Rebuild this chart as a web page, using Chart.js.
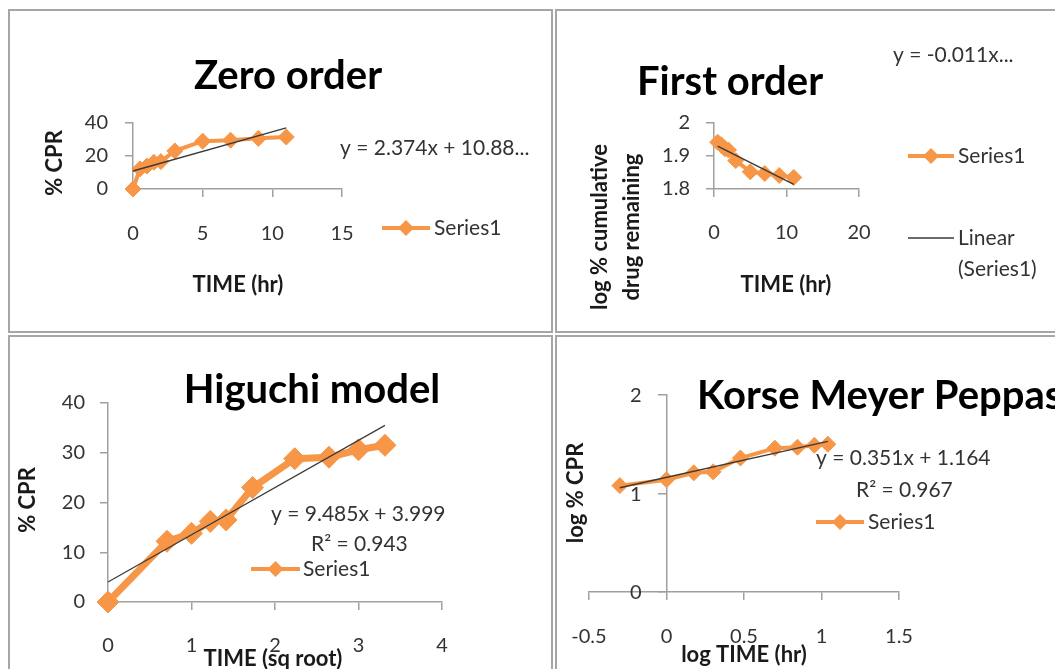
<!DOCTYPE html>
<html>
<head>
<meta charset="utf-8">
<script src="https://cdn.jsdelivr.net/npm/chart.js@4.4.1/dist/chart.umd.min.js"></script>
<style>
  html, body { margin: 0; padding: 0; background: #ffffff; }
  body { width: 1055px; height: 669px; overflow: hidden; position: relative; font-family: Lato, sans-serif; }
  .frame { position: absolute; border: 2px solid #a6a6a6; box-sizing: border-box; }
  canvas { position: absolute; left: 0; top: 0; }
</style>
</head>
<body>
<div class="frame" style="left:8px;top:9px;width:545px;height:324px"></div>
<div class="frame" style="left:555px;top:9px;width:520px;height:324px"></div>
<div class="frame" style="left:8px;top:335px;width:545px;height:400px"></div>
<div class="frame" style="left:555px;top:335px;width:520px;height:400px"></div>
<canvas id="zero" width="1055" height="669" style="width:1055px;height:669px"></canvas>
<canvas id="first" width="1055" height="669" style="width:1055px;height:669px"></canvas>
<canvas id="higuchi" width="1055" height="669" style="width:1055px;height:669px"></canvas>
<canvas id="kmp" width="1055" height="669" style="width:1055px;height:669px"></canvas>
<script>
// ---------------- DATA ----------------
// Zero order
const zeroTime = [0, 0.5, 1, 1.5, 2, 3, 5, 7, 9, 11];
const zeroCPR = [0, 12.2, 13.9, 16.2, 16.6, 23.1, 29.0, 29.6, 30.7, 31.5];
const zeroTrendX = [0, 11];
const zeroTrendY = [10.9, 37.0];
const zeroXTicks = [0, 5, 10, 15];
const zeroYTicks = [0, 20, 40];

// First order
const firstTime = [0.5, 1, 1.5, 2, 3, 5, 7, 9, 11];
const firstLogRemain = [1.942, 1.934, 1.922, 1.918, 1.886, 1.852, 1.847, 1.841, 1.835];
const firstTrendX = [0.5, 11];
const firstTrendY = [1.930, 1.814];
const firstXTicks = [0, 10, 20];
const firstYTicks = [1.8, 1.9, 2];

// Higuchi model
const higuchiSqrtTime = [0, 0.707, 1, 1.225, 1.414, 1.732, 2.236, 2.646, 3, 3.317];
const higuchiCPR = [0, 12.2, 13.8, 16.2, 16.5, 23.0, 28.8, 29.1, 30.6, 31.5];
const higuchiTrendX = [0, 3.317];
const higuchiTrendY = [4.0, 35.5];
const higuchiXTicks = [0, 1, 2, 3, 4];
const higuchiYTicks = [0, 10, 20, 30, 40];

// Korsmeyer-Peppas
const kmpLogTime = [-0.301, 0, 0.176, 0.301, 0.477, 0.699, 0.845, 0.954, 1.041];
const kmpLogCPR = [1.08, 1.14, 1.21, 1.22, 1.36, 1.46, 1.47, 1.49, 1.50];
const kmpTrendX = [-0.301, 1.041];
const kmpTrendY = [1.058, 1.529];
const kmpXTicks = [-0.5, 0, 0.5, 1, 1.5];
const kmpYTicks = [0, 1, 2];

// ---------------- STYLE ----------------
const ORANGE = '#F79646';
const TREND = '#3a3a3a';
const AXIS = '#a0a0a0';
const TICKCOL = '#333333';
const FONT = 'Lato, sans-serif';

function pts(xs, ys) { return xs.map((x, i) => ({ x: x, y: ys[i] })); }
function fmt(v) { return String(Math.round(v * 1000) / 1000); }

function seriesDs(xs, ys, lw, r) {
  return { data: pts(xs, ys), showLine: true, borderColor: ORANGE, backgroundColor: ORANGE,
           borderWidth: lw, pointStyle: 'rectRot', pointRadius: r, pointBorderWidth: 1,
           pointBorderColor: ORANGE, pointBackgroundColor: ORANGE, clip: false, order: 1, tension: 0 };
}
function trendDs(xs, ys, lw) {
  return { data: pts(xs, ys), showLine: true, borderColor: TREND, backgroundColor: TREND,
           borderWidth: lw, pointRadius: 0, clip: false, order: 0 };
}

function axisCfg(min, max, tickArr, extra) {
  const c = {
    type: 'linear', min: min, max: max,
    afterBuildTicks: (s) => { s.ticks = tickArr.map(v => ({ value: v })); },
    grid: { display: true, drawOnChartArea: false, drawTicks: true, tickLength: 8, color: AXIS, lineWidth: 1.5 },
    border: { display: true, color: AXIS, width: 1.5 },
    ticks: { font: { family: FONT, size: 20 }, color: TICKCOL, padding: 16, maxRotation: 0, minRotation: 0,
             autoSkip: false, callback: (v) => fmt(v) }
  };
  return Object.assign(c, extra || {});
}

function decor(items) {
  return {
    id: 'decor',
    afterDraw(chart) {
      const ctx = chart.ctx;
      items.forEach(it => {
        ctx.save();
        if (it.type === 'text') {
          ctx.font = it.font;
          ctx.fillStyle = it.color || TICKCOL;
          ctx.textAlign = it.align || 'left';
          ctx.textBaseline = 'middle';
          ctx.translate(it.x, it.y);
          if (it.rotate) ctx.rotate(it.rotate);
          ctx.fillText(it.text, 0, 0);
        } else if (it.type === 'yLabels') {
          // tick labels of a y axis that crosses at x = it.at, placed through the library scales
          const xs = chart.scales.x, ys = chart.scales.y;
          ctx.font = it.font; ctx.fillStyle = TICKCOL;
          ctx.textAlign = 'right'; ctx.textBaseline = 'middle';
          const px = xs.getPixelForValue(it.at) - it.gap;
          it.values.forEach(v => ctx.fillText(fmt(v), px, ys.getPixelForValue(v) + 1));
        } else if (it.type === 'legSeries') {
          ctx.strokeStyle = ORANGE; ctx.lineWidth = it.lw;
          ctx.beginPath(); ctx.moveTo(it.x1, it.y); ctx.lineTo(it.x2, it.y); ctx.stroke();
          const cx = (it.x1 + it.x2) / 2, r = it.r;
          ctx.fillStyle = ORANGE;
          ctx.beginPath(); ctx.moveTo(cx, it.y - r); ctx.lineTo(cx + r, it.y); ctx.lineTo(cx, it.y + r); ctx.lineTo(cx - r, it.y); ctx.closePath(); ctx.fill();
        } else if (it.type === 'legLine') {
          ctx.strokeStyle = TREND; ctx.lineWidth = it.lw;
          ctx.beginPath(); ctx.moveTo(it.x1, it.y); ctx.lineTo(it.x2, it.y); ctx.stroke();
        }
        ctx.restore();
      });
    }
  };
}

const baseOpts = (padding) => ({
  responsive: false, animation: false, events: [],
  layout: { padding: padding },
  plugins: { legend: { display: false }, tooltip: { enabled: false }, title: { display: false } }
});

const TITLEF = 'bold 40px ' + FONT;
const AXTF = 'bold 22px ' + FONT;
const TXTF = '21px ' + FONT;
const ROT = -Math.PI / 2;

// ---------------- ZERO ORDER ----------------
(function () {
  const o = baseOpts({ left: 73, right: 713, top: 123, bottom: 420 });
  o.scales = {
    x: axisCfg(0, 15, zeroXTicks, { afterFit: s => { s.height = 60; } }),
    y: axisCfg(0, 40, zeroYTicks, { afterFit: s => { s.width = 60; } })
  };
  o.scales.x.ticks.padding = 25;
  o.scales.y.ticks.padding = 17;
  new Chart(document.getElementById('zero'), {
    type: 'scatter',
    data: { datasets: [seriesDs(zeroTime, zeroCPR, 4, 8), trendDs(zeroTrendX, zeroTrendY, 1.4)] },
    options: o,
    plugins: [decor([
      { type: 'text', text: 'Zero order', x: 288, y: 76, font: TITLEF, color: '#000', align: 'center' },
      { type: 'text', text: '% CPR', x: 55, y: 163, font: AXTF, color: '#1a1a1a', align: 'center', rotate: ROT },
      { type: 'text', text: 'TIME (hr)', x: 238, y: 285, font: AXTF, color: '#1a1a1a', align: 'center' },
      { type: 'text', text: 'y = 2.374x + 10.88...', x: 340, y: 148, font: TXTF },
      { type: 'legSeries', x1: 382, x2: 430, y: 228, lw: 4, r: 8 },
      { type: 'text', text: 'Series1', x: 434, y: 228, font: TXTF }
    ])]
  });
})();

// ---------------- FIRST ORDER ----------------
(function () {
  const o = baseOpts({ left: 654, right: 196, top: 123, bottom: 420 });
  o.scales = {
    x: axisCfg(0, 20, firstXTicks, { afterFit: s => { s.height = 60; } }),
    y: axisCfg(1.8, 2, firstYTicks, { afterFit: s => { s.width = 60; } })
  };
  o.scales.x.ticks.padding = 24;
  o.scales.y.ticks.padding = 16;
  new Chart(document.getElementById('first'), {
    type: 'scatter',
    data: { datasets: [seriesDs(firstTime, firstLogRemain, 4, 8), trendDs(firstTrendX, firstTrendY, 1.4)] },
    options: o,
    plugins: [decor([
      { type: 'text', text: 'First order', x: 730, y: 82, font: TITLEF, color: '#000', align: 'center' },
      { type: 'text', text: 'log % cumulative', x: 600, y: 227, font: AXTF, color: '#1a1a1a', align: 'center', rotate: ROT },
      { type: 'text', text: 'drug remaining', x: 632, y: 227, font: AXTF, color: '#1a1a1a', align: 'center', rotate: ROT },
      { type: 'text', text: 'TIME (hr)', x: 786, y: 285, font: AXTF, color: '#1a1a1a', align: 'center' },
      { type: 'text', text: 'y = -0.011x...', x: 893, y: 55, font: TXTF },
      { type: 'legSeries', x1: 908, x2: 954, y: 156, lw: 4, r: 8 },
      { type: 'text', text: 'Series1', x: 958, y: 156, font: TXTF },
      { type: 'legLine', x1: 908, x2: 954, y: 238, lw: 1.4 },
      { type: 'text', text: 'Linear', x: 958, y: 238, font: TXTF },
      { type: 'text', text: '(Series1)', x: 958, y: 269, font: TXTF }
    ])]
  });
})();

// ---------------- HIGUCHI ----------------
(function () {
  const o = baseOpts({ left: 48, right: 613, top: 403, bottom: 7 });
  o.scales = {
    x: axisCfg(0, 4, higuchiXTicks, { afterFit: s => { s.height = 60; } }),
    y: axisCfg(0, 40, higuchiYTicks, { afterFit: s => { s.width = 60; } })
  };
  o.scales.x.ticks.padding = 24;
  o.scales.y.ticks.padding = 15;
  new Chart(document.getElementById('higuchi'), {
    type: 'scatter',
    data: { datasets: [seriesDs(higuchiSqrtTime, higuchiCPR, 7, 11), trendDs(higuchiTrendX, higuchiTrendY, 1.2)] },
    options: o,
    plugins: [decor([
      { type: 'text', text: 'Higuchi model', x: 312, y: 390, font: TITLEF, color: '#000', align: 'center' },
      { type: 'text', text: '% CPR', x: 28, y: 500, font: AXTF, color: '#1a1a1a', align: 'center', rotate: ROT },
      { type: 'text', text: 'TIME (sq root)', x: 273, y: 659, font: AXTF, color: '#1a1a1a', align: 'center' },
      { type: 'text', text: 'y = 9.485x + 3.999', x: 271, y: 514, font: TXTF },
      { type: 'text', text: 'R² = 0.943', x: 311, y: 544, font: TXTF },
      { type: 'legSeries', x1: 251, x2: 300, y: 569, lw: 4, r: 8 },
      { type: 'text', text: 'Series1', x: 303, y: 569, font: TXTF }
    ])]
  });
})();

// ---------------- KORSMEYER PEPPAS ----------------
(function () {
  const o = baseOpts({ left: 589, right: 156, top: 395, bottom: 17 });
  o.scales = {
    x: axisCfg(-0.5, 1.5, kmpXTicks, { afterFit: s => { s.height = 60; } }),
    y: axisCfg(0, 2, kmpYTicks, { position: { x: 0 } })
  };
  o.scales.x.ticks.padding = 25;
  o.scales.y.ticks.display = false;
  new Chart(document.getElementById('kmp'), {
    type: 'scatter',
    data: { datasets: [seriesDs(kmpLogTime, kmpLogCPR, 4, 8), trendDs(kmpTrendX, kmpTrendY, 1.4)] },
    options: o,
    plugins: [decor([
      { type: 'yLabels', values: kmpYTicks, at: 0, gap: 25, font: '20px ' + FONT },
      { type: 'text', text: 'Korse Meyer Peppas', x: 697, y: 396, font: TITLEF, color: '#000', align: 'left' },
      { type: 'text', text: 'log % CPR', x: 576, y: 493, font: AXTF, color: '#1a1a1a', align: 'center', rotate: ROT },
      { type: 'text', text: 'log TIME (hr)', x: 744, y: 655, font: AXTF, color: '#1a1a1a', align: 'center' },
      { type: 'text', text: 'y = 0.351x + 1.164', x: 816, y: 458, font: TXTF },
      { type: 'text', text: 'R² = 0.967', x: 856, y: 490, font: TXTF },
      { type: 'legSeries', x1: 816, x2: 864, y: 522, lw: 4, r: 8 },
      { type: 'text', text: 'Series1', x: 868, y: 522, font: TXTF }
    ])]
  });
})();
</script>
</body>
</html>
